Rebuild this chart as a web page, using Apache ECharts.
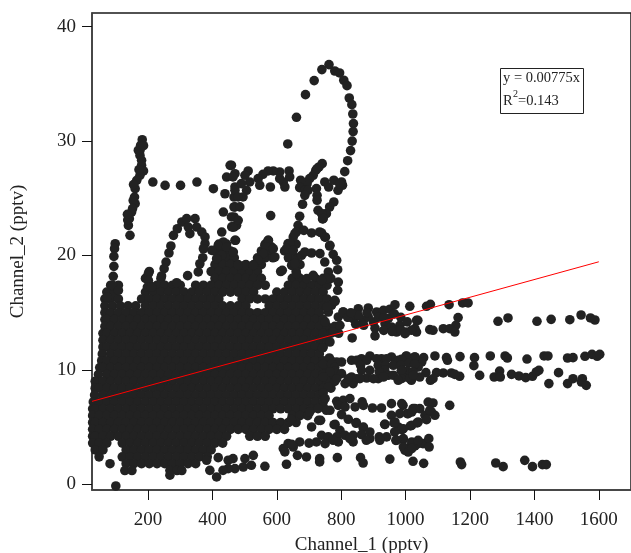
<!DOCTYPE html>
<html><head><meta charset="utf-8">
<style>html,body{margin:0;padding:0;background:#fff}#c{width:631px;height:553px}</style>
<script src="https://cdn.jsdelivr.net/npm/echarts@6/dist/echarts.min.js"></script>
</head><body><div id="c"></div>
<script>
const xTickLabels=[200,400,600,800,1000,1200,1400,1600];
const yTickLabels=[0,10,20,30,40];
const fitX=[26,1600];
const fitY=[7.25,19.45];
// overplotted core, read row by row: [y, x, x, ...]
const coreRows=[
[21,420,444,564,636,660],
[20.4,408,432,456,552,576,624,648],
[19.8,420,444,468,540,564,588,636,660],
[19.2,408,432,456,480,504,528,552,648,672],
[18.6,204,396,420,444,468,492,516,540,612,660],
[18,192,240,408,432,456,480,504,528,552,648,672,720,744,768],
[17.4,84,108,204,228,252,276,300,348,372,396,420,444,468,492,516,540,564,636,660,684,708,732,756],
[16.8,72,96,192,216,240,264,288,312,336,360,384,408,432,456,480,504,528,600,624,648,672,696,720,744],
[16.2,66,84,108,180,204,228,252,276,300,324,348,372,396,420,492,516,540,564,588,612,636,660,684,708,732,756],
[15.6,66,90,114,138,162,192,216,240,264,288,312,336,360,384,408,432,456,480,504,576,600,624,648,672,696,720,744],
[15,66,84,108,132,156,180,204,228,252,276,300,324,348,372,396,420,444,468,492,516,540,564,588,612,636,660,684,708,732],
[14.4,66,72,96,120,144,168,192,216,240,264,288,312,336,360,384,408,432,456,480,504,528,552,576,600,624,648,672,696,720,744],
[13.8,66,84,108,132,156,180,204,228,252,276,300,324,348,372,396,420,444,468,492,516,540,564,588,612,636,660,684,708,732,756,780],
[13.2,60,72,96,120,144,168,192,216,240,264,288,312,336,360,384,408,432,456,480,504,528,552,576,600,624,648,672,696,720,744,768,792],
[12.6,60,84,108,132,156,180,204,228,252,276,300,324,348,372,396,420,444,468,492,516,540,564,588,612,636,660,684,708,732,756],
[12,60,72,96,120,144,168,192,216,240,264,288,312,336,360,384,408,432,456,480,504,528,552,576,600,624,648,672,696,720,744],
[11.4,58,84,108,132,156,180,204,228,252,276,300,324,348,372,396,420,444,468,492,516,540,564,588,612,636,660,684,708,732],
[10.8,56,72,96,120,144,168,192,216,240,264,288,312,336,360,384,408,432,456,480,504,528,552,576,600,624,648,672,696,720,744,768],
[10.2,50,60,84,108,132,156,180,204,228,252,276,300,324,348,372,396,420,444,468,492,516,540,564,588,612,636,660,684,708,732,756],
[9.6,46,72,96,120,144,168,192,216,240,264,288,312,336,360,384,408,432,456,480,504,528,552,576,600,624,648,672,696,720,744,768,792],
[9,36,60,84,108,132,156,180,204,228,252,276,300,324,348,372,396,420,444,468,492,516,540,564,588,612,636,660,684,708,732,756,780],
[8.4,36,48,72,96,120,144,168,192,216,240,264,288,312,336,360,384,408,432,456,480,504,528,552,576,600,624,648,672,696,720,744,768],
[7.8,34,60,84,108,132,156,180,204,228,252,276,300,324,348,372,396,420,444,468,492,516,540,564,588,612,636,660,684,708,732],
[7.2,30,48,72,96,120,144,168,192,216,240,264,288,312,336,360,384,408,432,456,480,504,528,552,576,600,624,648,672,696,720,744],
[6.6,28,36,60,84,108,132,156,180,204,228,252,276,300,324,348,372,396,420,444,468,492,516,540,564,588,612,636,660,684,708],
[6,28,48,72,96,120,144,168,192,216,240,264,288,312,336,360,384,408,432,456,480,504,528,552,576,648,672,696],
[5.4,28,36,60,84,108,132,156,180,204,228,252,276,300,324,348,372,396,420,444,468,492,516,540,564,588,612,636,660],
[4.8,28,48,72,96,120,144,168,192,216,240,264,288,312,336,360,384,408,432,456,480,504,528,552,576,600,624],
[4.2,28,36,60,84,108,132,156,180,204,228,252,276,300,324,348,372,396,420,444,516,540,564],
[3.6,28,48,72,120,144,168,192,216,240,264,288,312,336,360,384,408,432],
[3,36,60,132,156,180,204,228,252,276,300,324,348,372,396],
[2.4,48,120,144,168,192,216,240,264,288,312,336,360,384],
[1.8,82,132,156,180,204,228,252,276,300,324,348],
[1.2,128,150,268,290,305],
[0.8,268],
[-0.15,100]];
const spikeLeft=[[98,21.03],[96,20.6],[94,19.92],[94,19.05],[92,18.18],[90,17.39],[108,16.95],[72,16.37]];
const spikeTall=[[182,30.12],[177,29.63],[175,29.19],[175,28.75],[180,28.32],[180,27.88],[186,27.39],[175,27.01],[165,26.57],[160,25.84],[158,25.11],[160,24.53],[149,23.8],[142,23.22],[139,22.63],[144,21.76],[170,29.2],[186,29.6],[172,27.5],[155,26.2],[154,24.8],[152,24.1],[137,23.1],[136,23.6]];
const shoulder=[[215,26.42],[253,26.13],[301,26.13],[352,26.42],[403,25.84],[439,25.4],[434,23.8],[429,22.05],[201,18.41],[201,17.83],[198,17.24],[211,17.24]];
const columnMid=[[455,27.88],[444,26.86],[470,27.15],[470,25.99],[467,25.11],[467,24.24],[467,23.37],[467,22.49],[472,21.33],[475,22.64],[460,22.5],[459,27.89],[464,26.87],[470,25.7],[470,24.25],[459,23.37],[464,22.5],[470,21.33],[511,27.39],[501,27.01],[516,26.43],[506,25.7],[495,25.12],[485,24.25],[480,23.08],[490,26.28],[480,25.12],[434,21.18],[418,20.89],[398,20.45],[444,20.74],[465,20.3],[429,20.01],[413,19.72]];
const arcLow=[[279,21.76],[291,22.34],[305,22.93],[320,23.22],[346,23.22],[325,22.49],[330,21.91],[351,22.49],[367,22.05],[377,21.62],[377,21.03],[372,20.59],[271,20.83],[265,20.22],[256,19.43],[250,18.85],[242,18.21],[323,18.24],[370,19.81],[361,19.28],[356,18.56],[289,17.62]];
const loop=[[762,36.69],[740,36.25],[716,35.29],[689,34.06],[661,32.08],[634,29.75],[780,36.13],[795,35.96],[808,35.32],[818,34.85],[825,33.77],[833,33.19],[836,32.37],[838,31.53],[837,30.83],[834,30],[829,29.17],[820,28.29],[811,27.33]];
const ridgeTop=[[741,28.03],[731,27.74],[721,27.45],[713,27.01],[725,27.6],[702,26.72],[694,26.28],[674,26.58],[671,25.93],[687,25.7],[697,25.7],[687,25.26],[723,25.85],[725,25.26],[725,24.83],[749,26.43],[761,25.99],[777,26.58],[801,26.43],[804,26.14],[790,25.7],[795,26.28],[680,24.48],[777,24.68],[764,24.24],[754,23.66],[742,23.2],[728,23.95],[671,23.43],[580,25.99],[581,23.49],[638,27.39],[640,26.87],[620,26.43],[609,26.72],[625,25.99],[609,27.3],[589,27.39],[573,27.39],[557,27.1],[542,26.72],[547,26.14]];
const swirl=[[666,22.64],[661,22.06],[684,22.2],[708,21.97],[733,22.06],[751,21.6],[764,20.83],[651,21.62],[635,21.04],[573,21.33],[563,20.89],[583,20.75],[656,21.91],[641,21.04],[630,20.6],[651,20.45],[677,20.02],[739,21.97],[749,21.62],[765,20.89],[775,20.1],[786,19.58],[789,18.76],[791,17.68],[789,16.96],[687,20.31],[708,20.22],[734,20.16],[749,19.43],[760,18.56],[755,17.98],[574,21.33],[568,20.74],[558,20.16],[589,20.6],[542,19.58],[594,19.87],[501,19.14],[480,19.14],[527,19.14],[617,18.7],[646,19.14],[656,19.29],[661,18.41],[693,17.98],[713,18.27],[739,17.83],[780,16.08],[770,15.65],[760,15.06],[806,15.06],[822,14.63],[791,14.63],[739,23.66],[744,23.22]];
const streamTop=[[1013,15.56],[1065,15.56],[1077,15.73],[1135,15.7],[1177,15.85],[1194,15.85],[755,15.5],[781,15.99],[806,15.06],[853,15.35],[884,15.41],[910,15.06],[931,15.21],[951,15.3],[967,15.7],[1034,14.33],[837,14.48],[869,14.33],[900,14.19],[936,14.04],[972,13.31],[1001,13.31],[1029,13.61],[834,12.79],[905,12.97],[765,12.44],[742,11.92],[982,13.9],[796,13.9],[775,13.31],[750,14.19],[946,14.48],[884,14.63],[853,14.77],[956,13.75],[820,14.6],[830,15],[915,14.6],[932,14.55],[870,13.9],[905,13.65],[932,13.45],[958,13.35],[985,13.5],[845,14],[965,14.9],[985,14.6],[1005,14.2],[880,15]];
const streamSecond=[[1038,14.33],[1163,14.57],[1156,13.9],[1117,13.6],[1137,13.6],[1075,13.52],[1085,13.46],[1153,13.31],[1034,13.31],[1018,13.46],[998,13.17],[1287,14.25],[1318,14.54],[1408,14.25],[1452,14.42],[1510,14.39],[1545,14.8],[1574,14.54],[1588,14.36]];
const streamThird=[[1001,11.19],[1028,11.13],[1056,11.07],[1050,10.69],[1091,11.22],[1127,11.07],[1130,10.84],[1169,11.16],[1214,11.07],[1212,10.37],[1263,11.22],[1309,11.22],[1316,11.04],[1377,10.95],[1430,11.22],[1442,11.22],[1503,11.04],[1520,11.07],[1557,11.19],[1579,11.36],[1595,11.19],[1603,11.36],[763,11.04],[801,10.69],[832,10.84],[863,10.98],[889,11.22],[925,10.98],[956,11.13],[977,10.84],[1003,11.22],[1029,11.13],[1039,10.25],[786,10.69],[848,10.84],[879,10.84],[910,10.98],[941,10.98],[987,10.92],[744,10.5],[770,10.5],[780,10.2],[860,10.4],[915,10.4],[938,10.4],[962,10.4],[985,10.4],[1010,10.6],[1028,10.5],[780,9.9],[935,10],[1005,9.9]];
const streamFourth=[[987,9.9],[1023,9.82],[1063,9.76],[1096,9.76],[1117,9.73],[1142,9.73],[1168,9.44],[1153,9.61],[992,9.32],[1018,9.09],[1044,9.38],[1077,9.09],[1085,9.23],[1230,9.52],[1275,9.38],[1292,9.9],[1294,9.38],[1329,9.61],[1352,9.47],[1373,9.32],[1394,9.44],[1406,9.82],[1414,9.96],[1475,9.76],[1445,8.8],[1503,8.8],[1520,9.23],[1549,9.23],[1546,8.94],[1561,8.65],[801,9.67],[832,9.38],[863,9.96],[889,9.96],[918,9.82],[946,9.53],[962,9.53],[987,9.96],[987,9.23],[1013,9.23],[1024,9.53],[848,9.23],[812,8.8],[786,9.23],[765,9.82],[879,9.29],[837,8.8],[915,9.23],[977,9.09],[900,9.23],[931,9.38],[858,9.23],[822,9.23],[744,9.4],[760,8.5],[744,8]];
const streamFifth=[[992,6.9],[1070,7.19],[1085,7.11],[1137,6.9],[1008,6.17],[1023,6.61],[1044,6.61],[1060,6.03],[1080,6.32],[1091,6.03],[1065,5.65],[1036,5.36],[1015,5.1],[990,4.8],[1075,6.47],[750,7.49],[786,7.25],[806,7.34],[827,7.49],[865,7.2],[897,6.67],[925,6.67],[956,7.05],[988,7.05],[1005,6.18],[1029,6.61],[744,6.76],[765,6.47],[791,6.9],[812,6.76],[843,6.76],[869,6.9],[956,6.03],[982,6.18],[1019,6.32],[801,6.09],[822,5.68],[846,5.33],[936,5.24],[967,5.45],[977,5.01],[993,4.86],[1019,5.16],[1039,5.45],[781,5.24],[796,4.72],[736,5.59],[869,5],[708,5.01],[645,5.65],[730,5.59],[778,5.21],[847,5.39],[868,4.95],[935,5.24],[964,5.36],[987,4.78],[966,4.57],[754,6.47],[702,6.32],[728,6.61]];
const streamSixth=[[992,3.9],[998,2.97],[1018,3.41],[1039,3.55],[1054,3.55],[1072,3.99],[1073,3.26],[1005,2.97],[1029,3.35],[739,4.28],[760,4.14],[786,4.14],[812,4.28],[837,4.28],[863,4.34],[889,4.57],[918,4.14],[941,4.14],[970,3.84],[993,3.99],[1019,3.7],[1039,3.84],[993,3.26],[1008,2.82],[837,3.7],[750,3.55],[791,3.7],[889,3.99],[1019,3.12],[671,3.7],[723,3.7],[775,3.85],[827,3.99],[878,3.85],[920,3.85],[971,3.85],[620,3.12],[635,3.55],[651,3.26],[625,2.83],[700,3.6],[646,3.5]];
const streamLow=[[1023,2.01],[1056,1.83],[1170,1.95],[1174,1.72],[1280,1.86],[1303,1.54],[1370,2.09],[1394,1.54],[1425,1.72],[1437,1.72],[788,2.33],[860,2.33],[951,2.2],[418,2.33],[464,2.24],[449,2.1],[501,2.24],[527,2.53],[521,1.66],[496,1.51],[470,1.37],[449,1.37],[563,1.57],[630,1.75],[692,2.39],[733,2.24],[733,1.95],[868,1.86],[664,2.53],[382,2.1],[392,1.22],[413,0.64],[433,1.22]];

const points=[];
coreRows.forEach(r=>r.slice(1).forEach(x=>points.push([x,r[0]])));
[spikeLeft,spikeTall,shoulder,columnMid,arcLow,loop,ridgeTop,swirl,streamTop,streamSecond,streamThird,streamFourth,streamFifth,streamSixth,streamLow].forEach(a=>a.forEach(p=>points.push(p)));

const serif='"Liberation Serif","Times New Roman",serif';
const ink='#222222';
const chart=echarts.init(document.getElementById('c'),null,{renderer:'canvas'});
chart.setOption({
 animation:false,
 backgroundColor:'#fff',
 grid:{left:92,right:0,top:13,bottom:63,containLabel:false,outerBoundsMode:'none',show:true,borderColor:'#1a1a1a',borderWidth:1.5,backgroundColor:'transparent'},
 xAxis:{type:'value',min:26,max:1700,
  name:'Channel_1 (pptv)',nameLocation:'middle',nameGap:46,nameTextStyle:{fontFamily:serif,fontSize:19,color:ink},
  axisLine:{show:true,onZero:false,lineStyle:{color:'#444',width:1.5}},
  axisTick:{show:true,length:10,inside:false,customValues:xTickLabels,lineStyle:{color:'#111',width:1}},
  axisLabel:{customValues:xTickLabels,formatter:v=>String(v),margin:21,fontFamily:serif,fontSize:19,color:ink},
  splitLine:{show:false}},
 yAxis:{type:'value',min:-0.5,max:41.2,
  name:'Channel_2 (pptv)',nameLocation:'middle',nameGap:64,nameTextStyle:{fontFamily:serif,fontSize:19,color:ink},
  axisLine:{show:true,onZero:false,lineStyle:{color:'#444',width:1.5}},
  axisTick:{show:true,length:10,inside:false,customValues:yTickLabels,lineStyle:{color:'#111',width:1}},
  axisLabel:{customValues:yTickLabels,formatter:v=>String(v),margin:16,fontFamily:serif,fontSize:19,color:ink},
  splitLine:{show:false}},
 series:[
  {type:'scatter',data:points,symbol:'circle',symbolSize:9.6,clip:false,large:false,silent:true,
   itemStyle:{color:ink,opacity:1},z:3},
  {type:'line',data:fitX.map((x,i)=>[x,fitY[i]]),symbol:'none',clip:false,silent:true,
   lineStyle:{color:'#ff0000',width:1},z:4}
 ],
 graphic:[
  {type:'rect',shape:{x:500.5,y:68.5,width:83,height:45},style:{fill:'#fff',stroke:'#222',lineWidth:1},z:10},
  {type:'text',x:503,y:71,style:{text:'y = 0.00775x',font:'14.5px '+serif,fill:ink},z:11},
  {type:'text',x:503,y:94,style:{text:'R',font:'14.5px '+serif,fill:ink},z:11},
  {type:'text',x:513,y:89,style:{text:'2',font:'10px '+serif,fill:ink},z:11},
  {type:'text',x:518,y:94,style:{text:'=0.143',font:'14.5px '+serif,fill:ink},z:11}
 ]
});
</script></body></html>
